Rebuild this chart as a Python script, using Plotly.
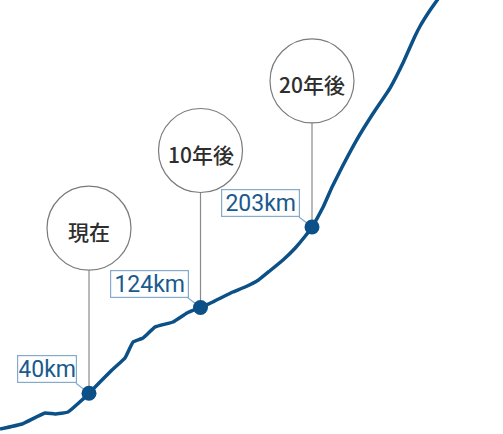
import plotly.graph_objects as go

# Years from now vs. cumulative distance (km)
years = [-7.98, -6.0, -3.95, -3.05, -1.88, -0.63, 0, 2.06, 3.23, 3.95, 4.84, 5.92, 7.53, 8.79, 10,
         11.1, 12.9, 14.0, 15.2, 16.2, 17.4, 18.5, 19.4, 20, 21.0, 21.8, 22.7, 24.0, 25.5, 27.0,
         28.2, 29.2, 29.7, 30.6, 31.4]
km = [4.9, 9.8, 20.6, 19.6, 21.6, 33.3, 40, 62.7, 74.5, 90.2, 94.1, 104.9, 109.8, 118.6, 124,
      129.4, 139.2, 144.1, 151, 159.8, 170.6, 182.4, 194.1, 203, 222.5, 242.2, 261.8, 288.2, 314.7, 339.2,
      364.7, 389.2, 400, 415.7, 428]

milestone_years = [0, 10, 20]
milestone_km = [40, 124, 203]
milestone_names = ["現在", "10年後", "20年後"]
milestone_labels = ["40km", "124km", "203km"]

LINE = "#0b5087"
TXT_BLUE = "#1a5a8e"
BOX = "#86aacb"
GRAY = "#8a8a8a"

circle_offsets = [165, 157, 146]  # px above the point
R = 42

fig = go.Figure()
fig.add_trace(go.Scatter(x=years, y=km, mode="lines",
                         line=dict(color=LINE, width=3.5, shape="spline", smoothing=0.3),
                         hoverinfo="skip"))
fig.add_trace(go.Scatter(x=milestone_years, y=milestone_km, mode="markers",
                         marker=dict(color=LINE, size=15), hoverinfo="skip"))

shapes = []
annotations = []
for yr, k, name, lab, off in zip(milestone_years, milestone_km, milestone_names, milestone_labels, circle_offsets):
    shapes.append(dict(type="line", layer="below", xref="x", yref="y",
                       xsizemode="pixel", ysizemode="pixel", xanchor=yr, yanchor=k,
                       x0=0, x1=0, y0=0, y1=off - R, line=dict(color=GRAY, width=1.2)))
    shapes.append(dict(type="circle", layer="above", xref="x", yref="y",
                       xsizemode="pixel", ysizemode="pixel", xanchor=yr, yanchor=k,
                       x0=-R, x1=R, y0=off - R, y1=off + R,
                       line=dict(color="#7a7a7a", width=1.2), fillcolor="white"))
    shapes.append(dict(type="line", layer="below", xref="x", yref="y",
                       xsizemode="pixel", ysizemode="pixel", xanchor=yr, yanchor=k,
                       x0=-13, x1=0, y0=10, y1=0, line=dict(color=BOX, width=1.2)))
    annotations.append(dict(x=yr, y=k, xref="x", yref="y", text=name, showarrow=False,
                            yshift=off - 3, xanchor="center", yanchor="middle",
                            font=dict(family="Noto Sans CJK JP", size=21, color="#2e2e2e", weight=500)))
    annotations.append(dict(x=yr, y=k, xref="x", yref="y", text=lab, showarrow=False,
                            xanchor="right", yanchor="bottom", xshift=-12, yshift=10,
                            width=19 * len(lab) - 20, height=24,
                            bordercolor=BOX, borderwidth=1.2, borderpad=1, bgcolor="white",
                            font=dict(family="Roboto", size=23, color=TXT_BLUE, weight=400)))

fig.update_layout(
    width=503, height=434,
    margin=dict(l=0, r=0, t=0, b=0),
    paper_bgcolor="white", plot_bgcolor="white",
    showlegend=False,
    xaxis=dict(range=[-7.982, 37.13], visible=False, fixedrange=True),
    yaxis=dict(range=[0, 425.5], visible=False, fixedrange=True),
    shapes=shapes,
    annotations=annotations,
)

fig.write_html("out.html", config={"displayModeBar": False},
               post_script="document.body.style.margin='0';document.body.style.overflow='hidden';")
